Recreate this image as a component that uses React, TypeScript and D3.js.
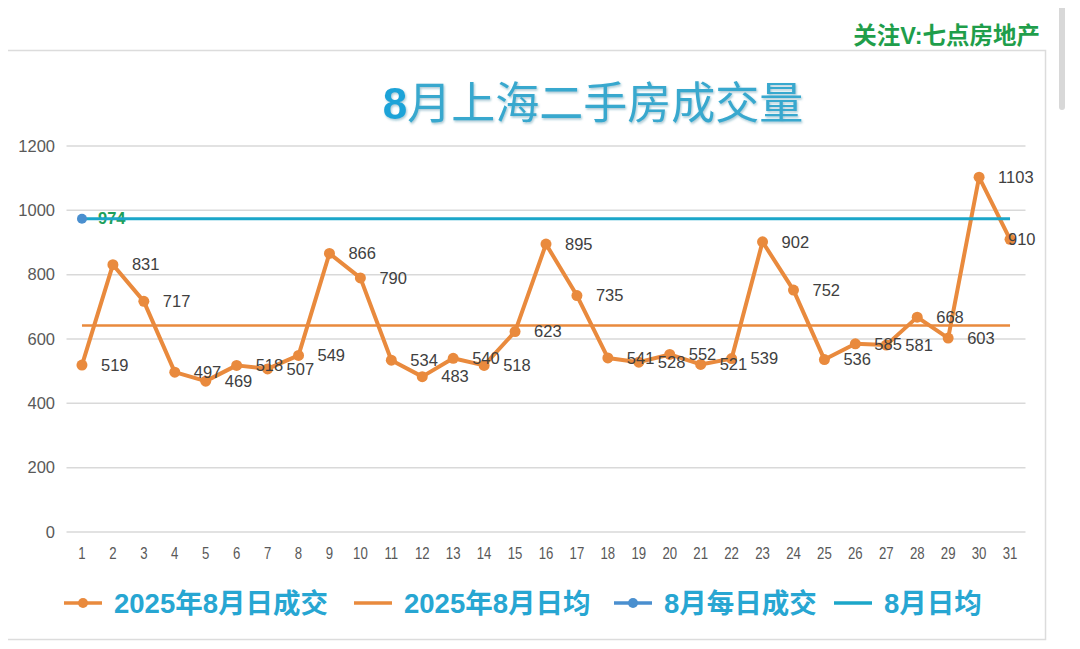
import React from "react";
import * as d3 from "d3";

const days = Array.from({ length: 31 }, (_, i) => String(i + 1));
const daily2025 = [519, 831, 717, 497, 469, 518, 507, 549, 866, 790, 534, 483, 540, 518, 623, 895, 735, 541, 528, 552, 521, 539, 902, 752, 536, 585, 581, 668, 603, 1103, 910];
const avg2025 = 642;
const augDaily = [974];
const augAvg = 974;
const yTicks = [0, 200, 400, 600, 800, 1000, 1200];
const legendItems = ["2025年8月日成交", "2025年8月日均", "8月每日成交", "8月日均"];

const W = 1080;
const H = 649;
const ORANGE = "#E98A3D";
const CYAN = "#1BA6C9";
const BLUE = "#4A8FCF";
const TEXT_BLUE = "#27A6D2";
const FONT = "'Liberation Sans', Arial, 'Noto Sans CJK SC', sans-serif";
const CJK = "'Liberation Sans', 'Noto Sans CJK SC', sans-serif";

export default function App() {
  const x = d3.scaleBand().domain(days).range([66.5, 1025.5]);
  const y = d3.scaleLinear().domain([0, 1200]).range([532, 146]);
  const cx = (d: string) => (x(d) as number) + x.bandwidth() / 2;

  const line = d3
    .line<number>()
    .x((_, i) => cx(days[i]))
    .y((v) => y(v));

  const legendX = [64, 354, 614, 834];

  return (
    <div style={{ margin: -8 }}>
      <svg width={W} height={H} style={{ display: "block", background: "#fff" }}>
        <defs>
          <filter id="sh" x="-5%" y="-20%" width="110%" height="140%">
            <feDropShadow dx="1" dy="1.5" stdDeviation="0.8" floodColor="#1a6f8c" floodOpacity="0.4" />
          </filter>
        </defs>
        {/* scrollbar hint */}
        <rect x={1059} y={0} width={6} height={110} rx={3} fill="#d8d8d8" />
        {/* card */}
        <rect x={2.5} y={50.5} width={1043} height={589} fill="#fff" stroke="#dcdcdc" strokeWidth={1.5} />
        <text x={1040} y={44} textAnchor="end" fill="#1F9E4B" fontFamily={CJK} fontWeight="bold" fontSize={23.5}>
          关注V:七点房地产
        </text>
        <text x={593} y={119} textAnchor="middle" fill="#38A8CE" fontFamily={CJK} fontWeight={400} fontSize={44} filter="url(#sh)">
          <tspan fontWeight="bold" fill="#1FA3D8">8</tspan>月上海二手房成交量
        </text>

        {/* grid */}
        {yTicks.map((t) => (
          <g key={t}>
            <line x1={66.5} x2={1025.5} y1={y(t)} y2={y(t)} stroke="#d9d9d9" strokeWidth={1.5} />
            <text x={55} y={y(t)} dy="0.35em" textAnchor="end" fill="#595959" fontFamily={FONT} fontSize={16.5}>
              {t}
            </text>
          </g>
        ))}
        {days.map((d) => (
          <text key={d} x={cx(d)} y={559} textAnchor="middle" fill="#595959" fontFamily={FONT} fontSize={16.5} transform={`translate(${cx(d)},0) scale(0.8,1) translate(${-cx(d)},0)`}>
            {d}
          </text>
        ))}

        {/* average lines */}
        <line x1={cx(days[0])} x2={cx(days[30])} y1={y(avg2025)} y2={y(avg2025)} stroke={ORANGE} strokeWidth={2.5} />

        {/* daily 2025 */}
        <path d={line(daily2025) || ""} fill="none" stroke={ORANGE} strokeWidth={4} strokeLinejoin="round" />
        {daily2025.map((v, i) => (
          <circle key={i} cx={cx(days[i])} cy={y(v)} r={5.5} fill={ORANGE} />
        ))}
        {daily2025.map((v, i) => {
          const px = Math.min(cx(days[i]) + 19, 1008);
          return (
            <text key={"l" + i} x={px} y={y(v)} dy="0.35em" fill="#404040" fontFamily={FONT} fontSize={16.5}>
              {v}
            </text>
          );
        })}

        {/* Aug daily point + label */}
        {augDaily.map((v, i) => (
          <text key={"a" + i} x={cx(days[i]) + 16} y={y(v)} dy="0.35em" fill="#1E9F5A" fontFamily={FONT} fontWeight="bold" fontSize={16.5}>
            {v}
          </text>
        ))}
        <line x1={cx(days[0])} x2={cx(days[30])} y1={y(augAvg)} y2={y(augAvg)} stroke={CYAN} strokeWidth={3} />
        {augDaily.map((v, i) => (
          <circle key={"ac" + i} cx={cx(days[i])} cy={y(v)} r={5} fill={BLUE} />
        ))}

        {/* legend */}
        {legendItems.map((name, i) => {
          const lx = legendX[i];
          const col = i === 0 || i === 1 ? ORANGE : i === 2 ? BLUE : CYAN;
          return (
            <g key={name}>
              <line x1={lx} x2={lx + 38} y1={603} y2={603} stroke={col} strokeWidth={3.5} />
              {(i === 0 || i === 2) && <circle cx={lx + 19} cy={603} r={5} fill={col} />}
              <text x={lx + 50} y={603} dy="0.36em" fill={TEXT_BLUE} fontFamily={CJK} fontWeight="bold" fontSize={27.5}>
                {name}
              </text>
            </g>
          );
        })}
      </svg>
    </div>
  );
}
